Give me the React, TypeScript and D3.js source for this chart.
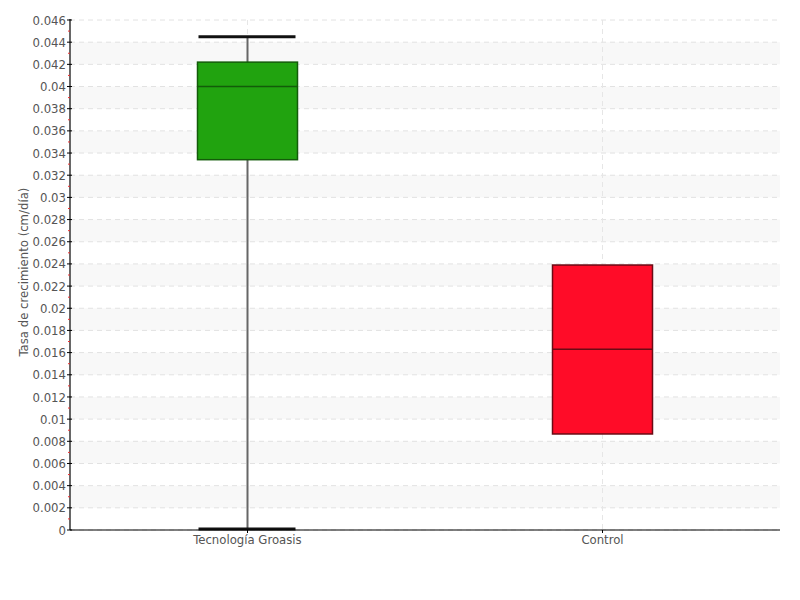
import React from "react";
import * as d3 from "d3";

const categories = ["Tecnología Groasis", "Control"];
const whiskerLow = [0, 0.00866];
const q1 = [0.0334, 0.00866];
const median = [0.04, 0.0163];
const q3 = [0.0422, 0.0239];
const whiskerHigh = [0.0445, 0.0239];
const fills = ["#21a30f", "#ff0c28"];
const strokes = ["#135c09", "#6b0a14"];
const yTicks = d3.range(0, 0.0461, 0.002);
const yTitle = "Tasa de crecimiento (cm/día)";

const W = 800, H = 600;
const L = 70, R = 780, T = 20, B = 530;
const FONT = "'DejaVu Sans Condensed', 'Liberation Sans Narrow', 'DejaVu Sans', sans-serif";

export default function App() {
  const y = d3.scaleLinear().domain([0, 0.046]).range([B, T]);
  const x = d3.scaleBand().domain(categories).range([L, R]);
  const bw = 100;
  const fmt = (v: number) => (+v.toFixed(3)).toString();
  const minor = d3.range(0.001, 0.046, 0.002);
  return (
    <svg width={W} height={H} style={{ position: "absolute", left: 0, top: 0, background: "#fff" }}>
      {yTicks.slice(0, -1).map((t, i) =>
        i % 2 === 1 ? (
          <rect key={"b" + i} x={L} y={y(t + 0.002)} width={R - L} height={y(t) - y(t + 0.002)} fill="#f8f8f8" />
        ) : null
      )}
      {yTicks.map((t, i) => (
        <line key={"g" + i} x1={L} x2={R} y1={y(t)} y2={y(t)} stroke="#e2e2e2" strokeDasharray="5,4" />
      ))}
      {categories.map((c) => (
        <line key={"v" + c} x1={x(c)! + x.bandwidth() / 2} x2={x(c)! + x.bandwidth() / 2} y1={T} y2={B} stroke="#e6e6e6" strokeDasharray="5,4" />
      ))}
      {categories.map((c, i) => {
        const cx = x(c)! + x.bandwidth() / 2;
        return (
          <g key={"box" + c}>
            <line x1={cx} x2={cx} y1={y(whiskerLow[i])} y2={y(whiskerHigh[i])} stroke="#666" strokeWidth={2} />
            {whiskerHigh[i] > q3[i] && (
              <line x1={cx - 49} x2={cx + 48} y1={y(whiskerHigh[i])} y2={y(whiskerHigh[i])} stroke="#111" strokeWidth={3} />
            )}
            {whiskerLow[i] < q1[i] && (
              <line x1={cx - 49} x2={cx + 48} y1={y(whiskerLow[i]) - 1} y2={y(whiskerLow[i]) - 1} stroke="#111" strokeWidth={3} />
            )}
            <rect x={cx - bw / 2} y={y(q3[i])} width={bw} height={y(q1[i]) - y(q3[i])} fill={fills[i]} stroke={strokes[i]} strokeWidth={1.5} />
            <line x1={cx - bw / 2} x2={cx + bw / 2} y1={y(median[i])} y2={y(median[i])} stroke={strokes[i]} strokeWidth={1.5} />
          </g>
        );
      })}
      <line x1={L} x2={R} y1={B} y2={B} stroke="#000" strokeWidth={1.2} />
      <line x1={L} x2={L} y1={T - 1} y2={B} stroke="#000" strokeWidth={1.2} />
      {minor.map((t, i) => (
        <line key={"m" + i} x1={L - 2} x2={L} y1={y(t)} y2={y(t)} stroke="#e83030" />
      ))}
      {yTicks.map((t, i) => (
        <g key={"t" + i}>
          <line x1={L - 3} x2={L + 2} y1={y(t)} y2={y(t)} stroke="#000" />
          <text x={L - 4} y={y(t)} dy="0.35em" textAnchor="end" fontFamily={FONT} fontSize={13} fill="#555">
            {fmt(t)}
          </text>
        </g>
      ))}
      {categories.map((c) => (
        <g key={"xl" + c}>
          <line x1={x(c)! + x.bandwidth() / 2} x2={x(c)! + x.bandwidth() / 2} y1={B} y2={B + 3} stroke="#000" />
          <text x={x(c)! + x.bandwidth() / 2} y={B + 14} textAnchor="middle" fontFamily={FONT} fontSize={13} fill="#555">
            {c}
          </text>
        </g>
      ))}
      <text transform={`translate(28,272) rotate(-90)`} textAnchor="middle" fontFamily={FONT} fontSize={13} fill="#555">
        {yTitle}
      </text>
    </svg>
  );
}
